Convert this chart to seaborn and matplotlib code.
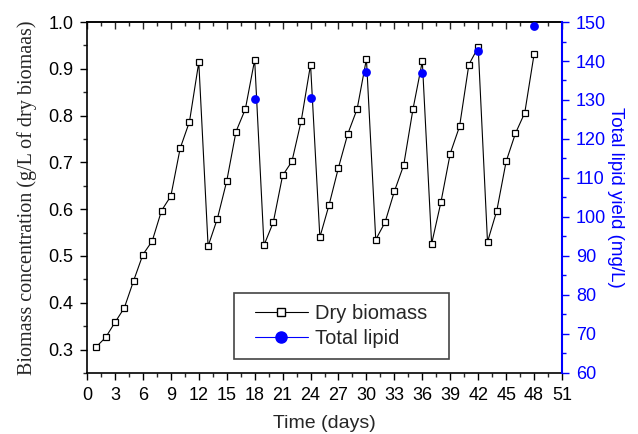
import numpy as np
import pandas as pd
import matplotlib
matplotlib.use("Agg")
import matplotlib.pyplot as plt
from matplotlib.lines import Line2D
from matplotlib.patches import Rectangle
from matplotlib.ticker import MultipleLocator, FormatStrFormatter
import seaborn as sns

sns.set_style("ticks")
plt.rcParams['font.family'] = ['Liberation Sans', 'DejaVu Sans']

# Dry biomass (g/L), one reading per day
days = list(range(1, 49))
biomass = [0.306, 0.326, 0.358, 0.389, 0.447, 0.503, 0.532, 0.597, 0.628, 0.730,
           0.787, 0.914, 0.521, 0.580, 0.660, 0.766, 0.814, 0.919, 0.523, 0.572,
           0.672, 0.702, 0.789, 0.909, 0.540, 0.610, 0.689, 0.761, 0.814, 0.921,
           0.535, 0.572, 0.638, 0.694, 0.814, 0.916, 0.526, 0.615, 0.719, 0.777,
           0.909, 0.946, 0.530, 0.597, 0.702, 0.762, 0.806, 0.931]

# Total lipid yield (mg/L), measured at each harvest
lipid_days = [18, 24, 30, 36, 42, 48]
lipid = [130.3, 130.6, 137.2, 137.0, 142.6, 148.9]

bio_df = pd.DataFrame({'day': days, 'biomass': biomass})
lip_df = pd.DataFrame({'day': lipid_days, 'lipid': lipid})

fig = plt.figure(figsize=(6.38, 4.34), dpi=100)
ax = fig.add_axes([0.1364, 0.1406, 0.7445, 0.8087])

sns.lineplot(data=bio_df, x='day', y='biomass', ax=ax, color='black', lw=0.8,
             marker='s', markersize=4.3, markerfacecolor='white',
             markeredgecolor='black', markeredgewidth=0.9)

ax2 = ax.twinx()
sns.scatterplot(data=lip_df, x='day', y='lipid', ax=ax2, color='blue',
                s=40, edgecolor='blue', linewidth=0, legend=False, zorder=5)

ax.set_xlim(0, 51)
ax.set_ylim(0.25, 1.0)
ax2.set_ylim(60, 150)

ax.xaxis.set_major_locator(MultipleLocator(3))
ax.xaxis.set_minor_locator(MultipleLocator(1.5))
ax.yaxis.set_major_locator(MultipleLocator(0.1))
ax.yaxis.set_minor_locator(MultipleLocator(0.05))
ax2.yaxis.set_major_locator(MultipleLocator(10))
ax2.yaxis.set_minor_locator(MultipleLocator(5))
ax.yaxis.set_major_formatter(FormatStrFormatter('%.1f'))

ax.tick_params(axis='both', which='major', direction='out', length=5,
               width=1, labelsize=13, colors='black', pad=5)
ax.tick_params(axis='both', which='minor', direction='out', length=3, width=1)

top = ax.secondary_xaxis('top')
top.xaxis.set_major_locator(MultipleLocator(3))
top.xaxis.set_minor_locator(MultipleLocator(1.5))
top.tick_params(which='major', direction='in', length=5, width=1, labeltop=False)
top.tick_params(which='minor', direction='in', length=3, width=1)
top.spines['top'].set_linewidth(1.2)

ax2.tick_params(axis='y', which='major', direction='out', length=5, width=1,
                colors='blue', labelsize=13, pad=5)
ax2.tick_params(axis='y', which='minor', direction='out', length=3, width=1,
                colors='blue')

for side in ['left', 'bottom', 'top']:
    ax.spines[side].set_linewidth(1.2)
    ax.spines[side].set_color('black')
ax.spines['right'].set_visible(False)
ax2.spines['right'].set_color('blue')
ax2.spines['right'].set_linewidth(1.5)
for side in ['left', 'bottom', 'top']:
    ax2.spines[side].set_visible(False)

ax.set_xlabel('Time (days)', fontsize=14, labelpad=8)
ax.set_ylabel('Biomass concentration (g/L of dry biomaas)', fontsize=14.5,
              family='Liberation Serif', labelpad=8)
ax2.set_ylabel('Total lipid yield (mg/L)', fontsize=13.5, color='blue',
               rotation=270, labelpad=13)

# legend frame drawn as a plain box, entries placed inside it
ax2.add_patch(Rectangle((0.3095, 0.04), 0.4525, 0.188, transform=ax2.transAxes,
                        facecolor='white', edgecolor='#444444', lw=1.2,
                        zorder=6))
handles = [
    Line2D([], [], color='black', lw=0.8, marker='s', markersize=6,
           markerfacecolor='white', markeredgecolor='black'),
    Line2D([], [], color='blue', lw=0.8, marker='o', markersize=8,
           markerfacecolor='blue', markeredgecolor='blue'),
]
leg = ax2.legend(handles, ['Dry biomass', 'Total lipid'], loc='center left',
                 bbox_to_anchor=(0.354, 0.135), fontsize=14.5, frameon=False,
                 handlelength=2.6, handletextpad=0.35, borderpad=0,
                 labelspacing=0.3, borderaxespad=0)
leg.set_zorder(7)

fig.savefig('out.png', dpi=100)
